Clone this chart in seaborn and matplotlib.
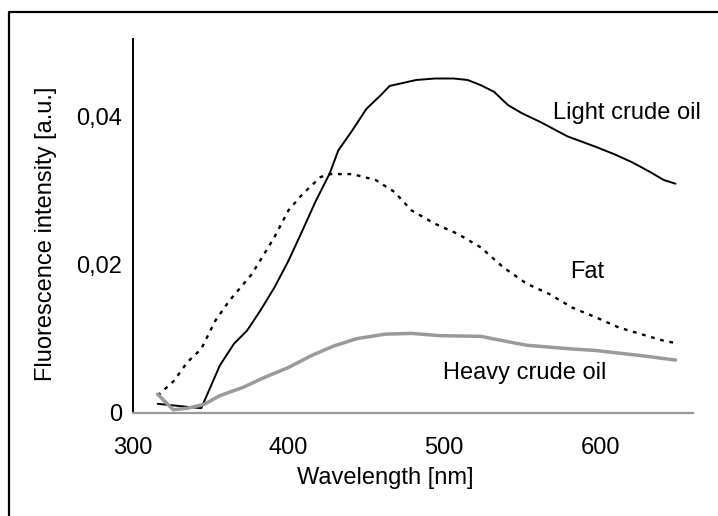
import matplotlib
matplotlib.use("Agg")
import matplotlib.pyplot as plt
import seaborn as sns
import numpy as np
import pandas as pd
from matplotlib.lines import Line2D
from matplotlib.ticker import FuncFormatter

light_x = [316, 344, 356, 365, 373.5, 382, 391, 400, 409, 417.6, 426.5, 432, 441, 450, 459, 465,
           473.5, 482, 494, 506, 515, 523.5, 532, 541, 550, 562, 579, 597, 609, 620.6, 632, 641, 648.5]
light_y = [0.0012, 0.0006, 0.0064, 0.0093, 0.0111, 0.0138, 0.0169, 0.0205, 0.0246, 0.0286, 0.0323,
           0.0354, 0.0381, 0.0410, 0.0428, 0.0441, 0.0445, 0.0449, 0.0451, 0.0451, 0.0449, 0.0442,
           0.0433, 0.0415, 0.0404, 0.0392, 0.0373, 0.0359, 0.0349, 0.0338, 0.0325, 0.0314, 0.0309]

fat_x = [316, 326.5, 335, 344, 353, 362, 376.5, 391, 400, 409, 420.6, 426.5, 441, 456, 468, 479,
         494, 509, 523.5, 538, 553, 567.6, 582, 597, 612, 626.5, 641, 648.5]
fat_y = [0.0023, 0.0043, 0.0068, 0.0086, 0.0124, 0.0151, 0.0187, 0.0237, 0.0273, 0.0295, 0.0318,
         0.0322, 0.0322, 0.0314, 0.0298, 0.0273, 0.0255, 0.0241, 0.0223, 0.0196, 0.0174, 0.0160,
         0.0142, 0.0129, 0.0115, 0.0106, 0.0097, 0.0094]

heavy_x = [316, 326, 335, 345.6, 356, 370.6, 385, 400, 414.7, 429, 444, 462, 479, 497, 523.5,
           538, 553, 582, 597, 626.5, 648.5]
heavy_y = [0.0025, 0.0004, 0.0006, 0.0011, 0.0023, 0.0034, 0.0048, 0.0061, 0.0077, 0.0090,
           0.0100, 0.0106, 0.0107, 0.0104, 0.0103, 0.0097, 0.0091, 0.0086, 0.0084, 0.0077, 0.0071]

x_ticks = [300, 400, 500, 600]
y_ticks = [0, 0.02, 0.04]

sns.set_theme(style="white")
plt.rcParams['font.family'] = ['Liberation Sans', 'DejaVu Sans']
plt.rcParams['text.color'] = 'black'
plt.rcParams['axes.labelcolor'] = 'black'

FS = 17
fig = plt.figure(figsize=(7.18, 5.16), dpi=100)
ax = fig.add_axes([0.1848, 0.2002, 0.7804, 0.7242])

sns.lineplot(x=light_x, y=light_y, ax=ax, color="black", linewidth=1.4, estimator=None)
sns.lineplot(x=fat_x, y=fat_y, ax=ax, color="black", linewidth=1.7, estimator=None,
             linestyle=(0, (1.6, 2.4)))
sns.lineplot(x=heavy_x, y=heavy_y, ax=ax, color="#9a9a9a", linewidth=2.5, estimator=None)

ax.set_xlim(300, 659.7)
ax.set_ylim(0, 0.05043)
ax.set_xticks(x_ticks)
ax.set_yticks(y_ticks)
ax.yaxis.set_major_formatter(FuncFormatter(lambda v, p: "0" if v == 0 else f"{v:.2f}".replace(".", ",")))
ax.tick_params(axis="both", labelsize=FS, colors="black", labelcolor="black",
               direction="out", length=4.5, width=1.2)
ax.tick_params(axis="x", color="#999999", pad=13)
ax.tick_params(axis="y", pad=3)
for s in ["top", "right"]:
    ax.spines[s].set_visible(False)
ax.spines["left"].set_color("black")
ax.spines["left"].set_linewidth(1.4)
ax.spines["bottom"].set_color("#999999")
ax.spines["bottom"].set_linewidth(1.6)

ax.set_xlabel("Wavelength [nm]", fontsize=FS, va="top", color="black")
ax.xaxis.set_label_coords(0.451, -0.144)
ax.set_ylabel("Fluorescence intensity [a.u.]", fontsize=FS, va="center", color="black")
ax.yaxis.set_label_coords(-0.1547, 0.478)

ax.text(570, 0.03964, "Light crude oil", fontsize=FS, ha="left", va="baseline", color="black")
ax.text(580.8, 0.01818, "Fat", fontsize=FS, ha="left", va="baseline", color="black")
ax.text(499.2, 0.00455, "Heavy crude oil", fontsize=FS, ha="left", va="baseline", color="black")

# outer frame (only top and left edges are inside the image)
fig.add_artist(Line2D([9/718, 9/718], [0, 1 - 12.3/516], transform=fig.transFigure,
                      color="black", linewidth=1.6))
fig.add_artist(Line2D([9/718, 1], [1 - 12.3/516, 1 - 12.3/516], transform=fig.transFigure,
                      color="black", linewidth=1.6))

fig.savefig("out.png", dpi=100, facecolor="white")
